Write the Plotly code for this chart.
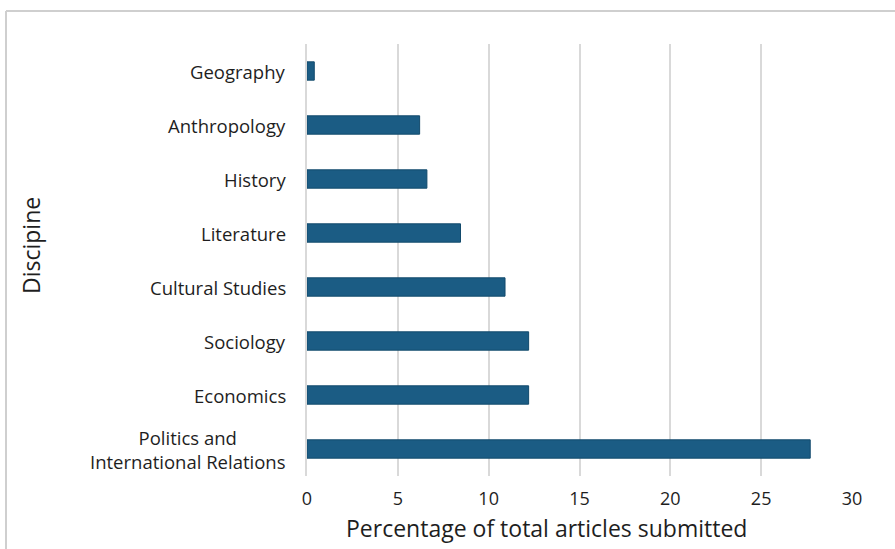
import plotly.graph_objects as go

categories = ["Geography", "Anthropology", "History", "Literature", "Cultural Studies",
              "Sociology", "Economics", "Politics and<br>International Relations"]
values = [0.4, 6.2, 6.6, 8.45, 10.9, 12.2, 12.2, 27.7]
x_ticks = [0, 5, 10, 15, 20, 25, 30]

W, H = 895, 549
L, R, T, B = 307, 43, 44, 73
font_family = "'Open Sans', Lato, sans-serif"
text_color = "#1e1e1e"
grid_color = "#d9d9d9"

fig = go.Figure(go.Bar(
    x=values, y=categories, orientation="h",
    marker=dict(color="#1b5c84", line=dict(color="#124a6c", width=1)),
    width=0.34,
))

pw = W - L - R
ph = H - T - B

def px_to_paper_x(px):
    return (px - L) / pw

def px_to_paper_y(py):
    return 1 - (py - T) / ph

annotations = []
for c in categories:
    annotations.append(dict(
        x=0, xref="paper", y=c, yref="y", text=c, showarrow=False,
        xanchor="right", yanchor="middle", align="center", xshift=-19,
        font=dict(family=font_family, size=18.5, color=text_color)))
annotations.append(dict(
    x=px_to_paper_x(31), xref="paper", y=px_to_paper_y(246), yref="paper",
    text="Discipine", textangle=-90, showarrow=False,
    xanchor="center", yanchor="middle",
    font=dict(family=font_family, size=23, color=text_color)))
annotations.append(dict(
    x=px_to_paper_x(546), xref="paper", y=px_to_paper_y(528), yref="paper",
    text="Percentage of total articles submitted", showarrow=False,
    xanchor="center", yanchor="middle",
    font=dict(family=font_family, size=23, color=text_color)))

shapes = [
    dict(type="line", xref="paper", yref="paper",
         x0=px_to_paper_x(6), x1=px_to_paper_x(6),
         y0=px_to_paper_y(11), y1=px_to_paper_y(560),
         line=dict(color="#cfcfcf", width=2)),
    dict(type="line", xref="paper", yref="paper",
         x0=px_to_paper_x(6), x1=px_to_paper_x(900),
         y0=px_to_paper_y(11), y1=px_to_paper_y(11),
         line=dict(color="#cfcfcf", width=2)),
]

fig.update_layout(
    width=W, height=H,
    margin=dict(l=L, r=R, t=T, b=B),
    plot_bgcolor="white", paper_bgcolor="white",
    showlegend=False,
    annotations=annotations,
    shapes=shapes,
    xaxis=dict(range=[0, 30], tickvals=x_ticks, showgrid=True, gridcolor=grid_color,
               gridwidth=1.5, zeroline=False, showline=False, ticks="",
               tickfont=dict(family=font_family, size=18, color=text_color),
               ticklabelstandoff=10),
    yaxis=dict(categoryorder="array", categoryarray=categories[::-1],
               range=[-0.5, 7.5], showticklabels=False, showgrid=False,
               zeroline=False, showline=True, linecolor=grid_color, linewidth=1.5,
               ticks=""),
)

fig.write_html("out.html", config={"displayModeBar": False},
               post_script="document.body.style.margin='0';document.body.style.padding='0';")
